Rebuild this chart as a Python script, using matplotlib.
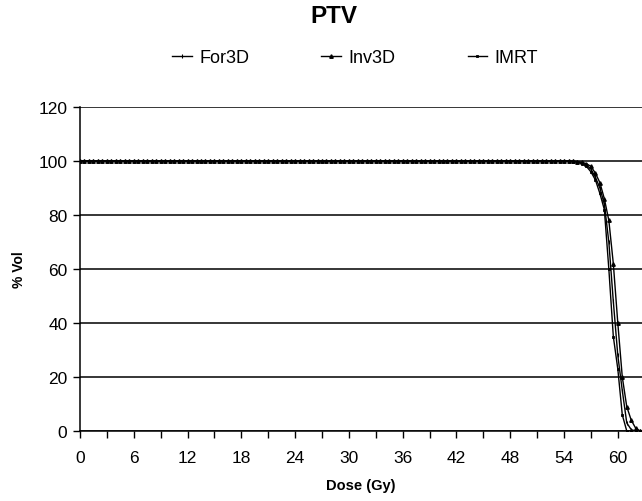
import numpy as np
import matplotlib
matplotlib.use("Agg")
import matplotlib.pyplot as plt
from matplotlib.lines import Line2D

plt.rcParams['font.family'] = ['Liberation Sans', 'DejaVu Sans']

# Dose (Gy) sample points
dose_plateau = np.arange(0, 55, 0.5)
dose_tail = [55, 55.5, 56, 56.5, 57, 57.5, 58, 58.5, 59, 59.5, 60, 60.5, 61, 61.5, 62, 62.5]
dose = list(dose_plateau) + dose_tail

# % Volume values
plateau = [100.0] * len(dose_plateau)
for3d_tail = [99.9, 99.7, 99.3, 98.5, 97, 94, 90, 84, 70, 48, 28, 15, 3, 0.5, 0, 0]
inv3d_tail = [99.9, 99.8, 99.5, 99, 98, 95.5, 92, 86, 78, 62, 40, 20, 9, 4, 1, 0]
imrt_tail = [99.8, 99.5, 99, 98, 96, 93, 88, 82, 60, 35, 23, 6, 0, 0, 0, 0]
for3d = plateau + for3d_tail
inv3d = plateau + inv3d_tail
imrt = plateau + imrt_tail

series_names = ["For3D", "Inv3D", "IMRT"]
xticks_major = list(range(0, 61, 6))
yticks = [0, 20, 40, 60, 80, 100, 120]

fig = plt.figure(figsize=(6.42, 5.02), dpi=100)
ax = fig.add_axes([80/642, 1-432/502, 1-80/642, (432-108)/502])

ax.plot(dose, for3d, color='black', lw=1.0, marker='|', ms=3, mew=0.8, label=series_names[0])
ax.plot(dose, inv3d, color='black', lw=1.0, marker='^', ms=2.5, label=series_names[1])
ax.plot(dose, imrt, color='black', lw=1.0, marker='s', ms=2.0, mew=0.6, label=series_names[2])

ax.set_xlim(0, 62.7)
ax.set_ylim(0, 120)
ax.set_yticks(yticks)
ax.set_xticks(xticks_major)
ax.set_xticks(list(range(3, 61, 6)), minor=True)
ax.tick_params(axis='both', which='both', direction='out', length=5, width=1, colors='black', labelsize=12.5)
ax.tick_params(axis='x', pad=9)
ax.tick_params(axis='y', pad=4)
ax.yaxis.grid(True, color='black', lw=1.1)
ax.set_axisbelow(True)
for s in ['top', 'right']:
    ax.spines[s].set_visible(False)
for s in ['left', 'bottom']:
    ax.spines[s].set_color('black')
    ax.spines[s].set_linewidth(1.1)

ax.set_xlabel("Dose (Gy)", fontsize=10.5, fontweight='bold', labelpad=9)
ax.set_ylabel("% Vol", fontsize=10, fontweight='bold', labelpad=9)

fig.text(0.52, 0.968, "PTV", ha='center', va='center', fontsize=17.5, fontweight='bold')

handles = [
    Line2D([], [], color='black', lw=1.0, marker='|', ms=3, mew=0.8),
    Line2D([], [], color='black', lw=1.0, marker='^', ms=2.5),
    Line2D([], [], color='black', lw=1.0, marker='s', ms=2.0, mew=0.6),
]
fig.legend(handles, series_names, loc='center', bbox_to_anchor=(0.553, 0.883), ncol=3,
           frameon=False, fontsize=13, handlelength=1.1, handletextpad=0.4, columnspacing=4.0)

fig.savefig("out.png", dpi=100)
